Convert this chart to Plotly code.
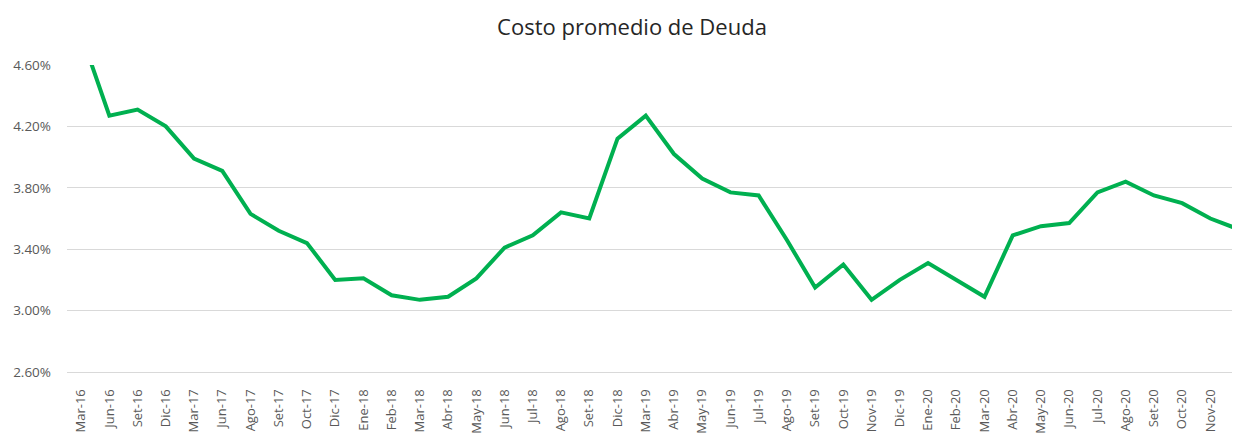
import plotly.graph_objects as go

categories = ["Mar-16","Jun-16","Set-16","Dic-16","Mar-17","Jun-17","Ago-17","Set-17","Oct-17","Dic-17",
              "Ene-18","Feb-18","Mar-18","Abr-18","May-18","Jun-18","Jul-18","Ago-18","Set-18","Dic-18",
              "Mar-19","Abr-19","May-19","Jun-19","Jul-19","Ago-19","Set-19","Oct-19","Nov-19","Dic-19",
              "Ene-20","Feb-20","Mar-20","Abr-20","May-20","Jun-20","Jul-20","Ago-20","Set-20","Oct-20",
              "Nov-20","Dic-20"]
costo = [4.80, 4.27, 4.31, 4.20, 3.99, 3.91, 3.63, 3.52, 3.44, 3.20,
         3.21, 3.10, 3.07, 3.09, 3.21, 3.41, 3.49, 3.64, 3.60, 4.12,
         4.27, 4.02, 3.86, 3.77, 3.75, 3.46, 3.15, 3.30, 3.07, 3.20,
         3.31, 3.20, 3.09, 3.49, 3.55, 3.57, 3.77, 3.84, 3.75, 3.70,
         3.60, 3.53]
y_ticks = [2.60, 3.00, 3.40, 3.80, 4.20, 4.60]
y_tick_labels = ["2.60%", "3.00%", "3.40%", "3.80%", "4.20%", "4.60%"]

idx = list(range(len(categories)))

W, H = 1232, 426

fig = go.Figure()
fig.add_trace(go.Scatter(x=idx, y=costo, mode="lines",
                         line=dict(color="#00B050", width=4),
                         hoverinfo="skip", showlegend=False))

fig.update_layout(
    width=W, height=H,
    margin=dict(l=59, r=0, t=57, b=62, pad=0),
    paper_bgcolor="white", plot_bgcolor="white",
    font=dict(family="Open Sans", color="#595959", size=13),
    title=dict(text="Costo promedio de Deuda", x=624/W, xref="container", xanchor="center",
               y=1-19/H, yref="container", yanchor="middle",
               font=dict(family="Open Sans", size=22, color="#262626")),
)
fig.update_xaxes(
    range=[-0.5, 41.05], tickmode="array", tickvals=idx, ticktext=categories,
    tickangle=-90, showgrid=False, showline=True, linecolor="#D9D9D9", linewidth=1,
    ticks="", ticklabelstandoff=11, automargin=False, zeroline=False,
    ticklabeloverflow="allow",
    tickfont=dict(size=13, color="#595959"),
)
fig.update_yaxes(
    range=[2.6, 4.6], tickmode="array", tickvals=y_ticks, ticktext=y_tick_labels,
    showgrid=True, gridcolor="#D9D9D9", gridwidth=1, showline=False, zeroline=False,
    ticks="", ticklabelstandoff=15, automargin=False,
    tickfont=dict(size=13.5, color="#595959"),
)

fig.write_html("out.html")
